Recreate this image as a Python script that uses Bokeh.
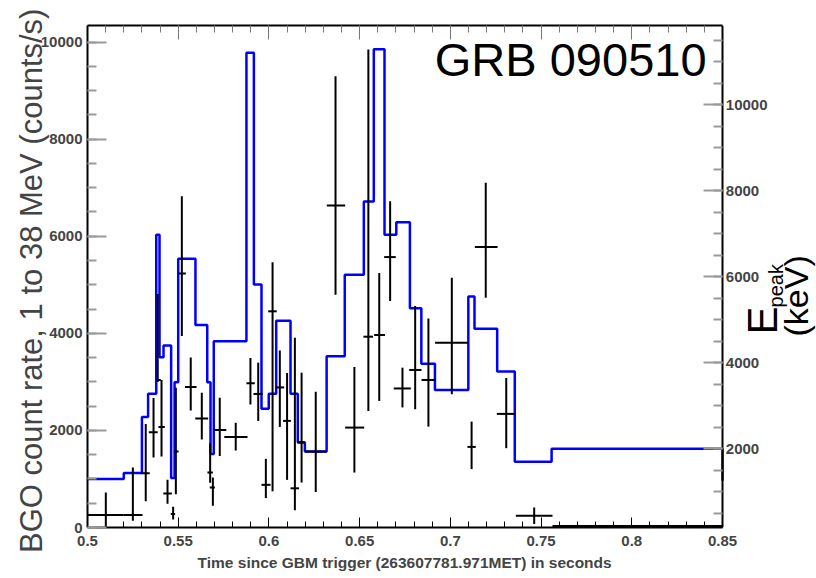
import math
from bokeh.plotting import figure
from bokeh.models import (Range1d, LinearAxis, SingleIntervalTicker, NumeralTickFormatter,
                          Label, ColumnDataSource, CustomJSTickFormatter)
from bokeh.embed import file_html
from bokeh.resources import INLINE

# ---- data: BGO count rate (left axis), time bins with x errors and asymmetric y errors
t = [0.5101, 0.5250, 0.5321, 0.5364, 0.5387, 0.5408, 0.5441, 0.5472, 0.5487, 0.5520,
     0.5569, 0.5630, 0.5676, 0.5691, 0.5729, 0.5817, 0.5898, 0.5941, 0.5983, 0.6020,
     0.6060, 0.6100, 0.6143, 0.6180, 0.6258, 0.6367, 0.6471, 0.6548, 0.6608, 0.6668,
     0.6736, 0.6806, 0.6879, 0.7008, 0.7117, 0.7195, 0.7308, 0.7462, 0.8031]
t_lo = [0.5000, 0.5200, 0.5294, 0.5338, 0.5379, 0.5391, 0.5418, 0.5459, 0.5476, 0.5502,
        0.5537, 0.5594, 0.5661, 0.5674, 0.5698, 0.5754, 0.5876, 0.5915, 0.5959, 0.5996,
        0.6038, 0.6078, 0.6119, 0.6157, 0.6199, 0.6319, 0.6420, 0.6521, 0.6580, 0.6635,
        0.6688, 0.6773, 0.6841, 0.6916, 0.7094, 0.7135, 0.7256, 0.7361, 0.7563]
t_hi = [0.5200, 0.5303, 0.5343, 0.5387, 0.5404, 0.5426, 0.5465, 0.5483, 0.5502, 0.5542,
        0.5601, 0.5665, 0.5691, 0.5702, 0.5765, 0.5882, 0.5922, 0.5965, 0.6009, 0.6043,
        0.6084, 0.6121, 0.6166, 0.6199, 0.6319, 0.6420, 0.6525, 0.6574, 0.6640, 0.6699,
        0.6782, 0.6841, 0.6920, 0.7100, 0.7140, 0.7260, 0.7357, 0.7563, 0.8500]
rate = [255, 255, 1115, 1963, 3039, 2072, 700, 276, 1564, 5230,
        2895, 2247, 1132, 823, 2010, 1866, 2971, 2751, 879, 4453,
        2885, 2196, 807, 1749, 1564, 6634, 2058, 3930, 3965, 5570,
        2864, 3245, 3039, 3807, 1660, 5776, 2340, 241, 30]
rate_hi = [720, 1235, 2134, 2669, 4809, 3039, 981, 426, 2881, 6825,
           3502, 2778, 1737, 1029, 2675, 2160, 3492, 3395, 1414, 5463,
           3646, 3183, 3909, 3189, 2796, 9294, 3307, 9844, 5241, 6722,
           3292, 4562, 4305, 5144, 2181, 7099, 3080, 412, 30]
rate_lo = [14, 138, 539, 1440, 2998, 1465, 488, 165, 687, 3944,
           2412, 1815, 920, 447, 1475, 1588, 2531, 2195, 605, 745,
           2072, 981, 354, 926, 730, 4794, 1132, 2401, 2607, 4665,
           2473, 2436, 2078, 2745, 1202, 4733, 1634, 70, 30]

# ---- data: E_peak step histogram (right axis, keV)
epeak_edges = [0.5, 0.52, 0.53, 0.5334, 0.5379, 0.5397, 0.5419, 0.5461, 0.548, 0.55,
               0.5595, 0.566, 0.5678, 0.5696, 0.5876, 0.5917, 0.5959, 0.5999, 0.604, 0.6119,
               0.6159, 0.6198, 0.6318, 0.6418, 0.6523, 0.6578, 0.6637, 0.6702, 0.6777, 0.684,
               0.6915, 0.7099, 0.7133, 0.7258, 0.7355, 0.7558, 0.85]
epeak = [1300, 1440, 2740, 3280, 6980, 4130, 4400, 1320, 3550, 6420,
         4880, 3550, 1880, 4500, 11210, 5820, 2930, 3280, 4980, 3280,
         2150, 1940, 4150, 6050, 7750, 11290, 6980, 7270, 5270, 3980,
         3370, 5540, 4790, 3800, 1700, 2000]
epeak_next = 1260   # level the histogram outline drops to at the right edge

title_text = "GRB 090510"
x_title = "Time since GBM trigger (263607781.971MET) in seconds"
y_title = "BGO count rate, 1 to 38 MeV (counts/s)"
y2_title_main = "E"
y2_title_sub = "peak"
y2_title_unit = "(keV)"

assert len(t) == len(t_lo) == len(t_hi) == len(rate) == len(rate_lo) == len(rate_hi)
assert len(epeak_edges) == len(epeak) + 1

SANS = "Liberation Sans"
NB = "\u00a0"
T_END = 0.85          # end of the time axis
X_VIEW_END = 0.9018   # frame continues to the canvas edge to host the E_peak title

p = figure(width=816, height=578, x_range=Range1d(0.5, X_VIEW_END), y_range=Range1d(0, 10340),
           output_backend="svg", toolbar_location=None,
           min_border_left=87, min_border_right=0, min_border_top=25, min_border_bottom=51)
p.background_fill_color = "white"
p.border_fill_color = "white"
p.outline_line_color = None
p.grid.visible = False

p.extra_y_ranges = {"epeak": Range1d(170, 11844)}

# bottom axis
xa = p.xaxis[0]
xa.bounds = (0.5, T_END + 0.0001)
xa.ticker = SingleIntervalTicker(interval=0.05, num_minor_ticks=5)
xa.formatter = NumeralTickFormatter(format="0.0[0]")
xa.major_tick_in = 10
xa.major_tick_out = 0
xa.minor_tick_in = 6
xa.minor_tick_out = 0
xa.axis_line_width = 2
xa.major_label_text_font = SANS
xa.major_label_text_font_style = "bold"
xa.major_label_text_font_size = "15px"
xa.major_label_standoff = 8
xa.axis_label = x_title + NB * 22
xa.axis_label_text_font = SANS
xa.axis_label_text_font_style = "bold"
xa.axis_label_text_font_size = "15.5px"
xa.axis_label_standoff = 5

# left axis
ya = p.yaxis[0]
ya.ticker = SingleIntervalTicker(interval=2000, num_minor_ticks=4)
ya.major_tick_in = 19
ya.major_tick_out = 0
ya.minor_tick_in = 9
ya.minor_tick_out = 0
ya.major_tick_line_color = "#9a9a9a"
ya.major_tick_line_width = 2
ya.minor_tick_line_color = "#9a9a9a"
ya.minor_tick_line_width = 2
ya.axis_line_width = 2
ya.major_label_text_font = SANS
ya.major_label_text_font_style = "bold"
ya.major_label_text_font_size = "15px"
ya.major_label_standoff = 5
ya.axis_label = y_title + NB
ya.axis_label_text_font = SANS
ya.axis_label_text_font_style = "normal"
ya.axis_label_text_font_size = "31px"
ya.axis_label_standoff = -11

# top axis (ticks only)
top = LinearAxis(bounds=(0.5, T_END + 0.0001),
                 ticker=SingleIntervalTicker(interval=0.05, num_minor_ticks=5),
                 formatter=CustomJSTickFormatter(code="return ''"),
                 major_tick_in=14, major_tick_out=0, minor_tick_in=7, minor_tick_out=0,
                 major_tick_line_color="#777777", minor_tick_line_color="#777777",
                 axis_line_width=2, major_label_text_font_size="2px", major_label_standoff=0)
p.add_layout(top, "above")

# right-hand E_peak axis, drawn at the end of the time axis
ra = LinearAxis(y_range_name="epeak", fixed_location=T_END,
                ticker=SingleIntervalTicker(interval=2000, num_minor_ticks=4),
                formatter=CustomJSTickFormatter(
                    code="return tick >= 10000 ? String(tick) : String(tick) + '\\u00a0\\u00a0';"),
                major_tick_in=0, major_tick_out=19, minor_tick_in=0, minor_tick_out=9,
                major_tick_line_color="#9a9a9a", major_tick_line_width=2,
                minor_tick_line_color="#9a9a9a", minor_tick_line_width=2,
                axis_line_width=2, major_label_text_font=SANS,
                major_label_text_font_style="bold", major_label_text_font_size="15px",
                major_label_standoff=-64)
p.add_layout(ra, "left")

# E_peak step histogram (outline closes down to the next level at the right edge)
p.step(x=epeak_edges, y=epeak + [epeak_next], mode="after", y_range_name="epeak",
       line_color="#0000ff", line_width=2.5)

# BGO rate crosses
src = ColumnDataSource(dict(t=t, t_lo=t_lo, t_hi=t_hi, rate=rate, rate_lo=rate_lo, rate_hi=rate_hi))
p.segment(x0="t_lo", y0="rate", x1="t_hi", y1="rate", source=src, line_color="black", line_width=2)
p.segment(x0="t", y0="rate_lo", x1="t", y1="rate_hi", source=src, line_color="black", line_width=2)

# title inside the frame
p.add_layout(Label(x=0.8412, y=9630, text=title_text, text_font=SANS, text_font_size="47px",
                   text_align="right", text_baseline="middle", text_color="black"))

# right-hand title E_peak (keV)
for txt, xx, yy, fs in [(y2_title_main, 0.87204, 3975, "42px"),
                        (y2_title_sub, 0.87960, 4532, "20px"),
                        (y2_title_unit, 0.89023, 3934, "34px")]:
    p.add_layout(Label(x=xx, y=yy, text=txt, angle=math.pi / 2, text_font=SANS,
                       text_font_size=fs, text_align="left", text_baseline="middle",
                       text_color="black"))

open("out.html", "w").write(file_html(p, INLINE))
